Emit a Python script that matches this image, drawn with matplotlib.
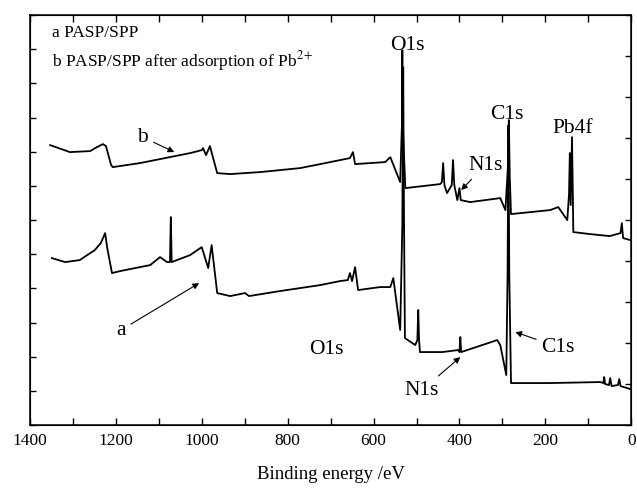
import numpy as np
import matplotlib
matplotlib.use("Agg")
import matplotlib.pyplot as plt
from matplotlib.ticker import MultipleLocator

# binding energy (eV) and intensity (a.u.)
b_ev = [1353, 1307, 1260, 1244, 1230, 1223, 1211, 1207, 1144, 1074, 1027, 1000,
        997, 990, 981, 964, 934, 864, 771, 724, 655, 648, 643, 573, 561, 538,
        534, 533, 532, 526, 445, 441, 438, 435, 429, 418, 415, 412, 405, 400,
        397, 375, 305, 293, 287, 285, 283, 280, 189, 170, 149, 145, 143, 141,
        138, 136, 135, 96, 50, 25, 22, 19, 2]
b_int = [280, 273, 274, 278, 281, 279, 260, 258, 262, 268, 272, 275,
         277, 270, 279, 252, 251, 253, 257, 261, 267, 273, 261, 263, 268, 243,
         300, 375, 300, 237, 241, 243, 262, 240, 232, 240, 265, 240, 225, 237,
         225, 223, 227, 215, 260, 305, 250, 211, 215, 218, 205, 230, 272, 220,
         288, 230, 193, 191, 189, 192, 202, 187, 185]

a_ev = [1349, 1318, 1284, 1249, 1235, 1225, 1220, 1209, 1190, 1120, 1097, 1081,
        1074, 1072, 1070, 1027, 1000, 985, 977, 964, 934, 899, 890, 818, 724,
        678, 660, 655, 650, 643, 636, 585, 561, 554, 538, 533, 531, 529, 527,
        503, 498, 496, 494, 492, 440, 403, 400, 398, 396, 312, 305, 291, 288,
        286, 284, 280, 189, 72, 65, 63, 61, 52, 49, 46, 31, 28, 25, 2]
a_int = [167, 163, 165, 175, 182, 192, 177, 152, 154, 160, 168, 163,
         163, 208, 163, 170, 178, 157, 180, 132, 129, 132, 129, 134, 140,
         144, 145, 152, 144, 158, 135, 138, 138, 147, 95, 200, 358, 200, 87,
         80, 85, 115, 85, 73, 73, 75, 73, 88, 73, 85, 80, 50, 150,
         300, 150, 42, 42, 43, 42, 48, 41, 40, 47, 39, 40, 46, 39, 36]

plt.rcParams['font.family'] = 'Liberation Serif'
plt.rcParams['mathtext.fontset'] = 'stix'
serif = 'Liberation Serif'

fig = plt.figure(figsize=(6.37, 4.88), dpi=100)
ax = fig.add_axes([0.047, 0.129, 0.944, 0.84])

ax.plot(b_ev, b_int, color='k', lw=1.3)
ax.plot(a_ev, a_int, color='k', lw=1.3)

ax.set_xlim(1400, 0)
ax.set_ylim(0, 410)
ax.xaxis.set_major_locator(MultipleLocator(200))
ax.xaxis.set_minor_locator(MultipleLocator(100))
ax.set_yticks(np.linspace(0, 410, 13))
ax.set_yticklabels([])
ax.tick_params(axis='x', which='both', direction='in', top=True, length=5, width=1,
               labelsize=12.5, pad=6)
ax.tick_params(axis='y', direction='in', length=4, width=1)
for s in ax.spines.values():
    s.set_linewidth(1.1)

ax2 = ax.twinx()
ax2.set_ylim(0, 10)
ax2.set_yticks(range(11))
ax2.set_yticklabels([])
ax2.tick_params(axis='y', direction='in', length=4, width=1)

ax.set_xlabel('Binding energy /eV', fontsize=13.5, family=serif, labelpad=12)

# legend text
ax.text(1349, 392, 'a PASP/SPP', fontsize=12.5, family=serif, va='center')
ax.text(1349, 364, 'b PASP/SPP after adsorption of Pb$^{2+}$', fontsize=12.5,
        family=serif, va='center')

big = dict(fontsize=15.5, family=serif, ha='center', va='center')
ax.text(522, 380, 'O1s', **big)
ax.text(289, 311, 'C1s', **big)
ax.text(137, 297, 'Pb4f', **big)
ax.text(710, 76, 'O1s', **big)

arrow = dict(arrowstyle='-|>', color='k', lw=0.8, mutation_scale=9, shrinkA=2, shrinkB=0)
ax.annotate('b', xy=(1064, 273), xytext=(1137, 288), arrowprops=arrow, **big)
ax.annotate('a', xy=(1006, 142), xytext=(1188, 95), arrowprops=arrow, **big)
ax.annotate('N1s', xy=(396, 235), xytext=(340, 260), arrowprops=arrow, **big)
ax.annotate('N1s', xy=(398, 68), xytext=(487, 35), arrowprops=arrow, **big)
ax.annotate('C1s', xy=(270, 93), xytext=(170, 78), arrowprops=arrow, **big)

fig.savefig('out.png', dpi=100)
